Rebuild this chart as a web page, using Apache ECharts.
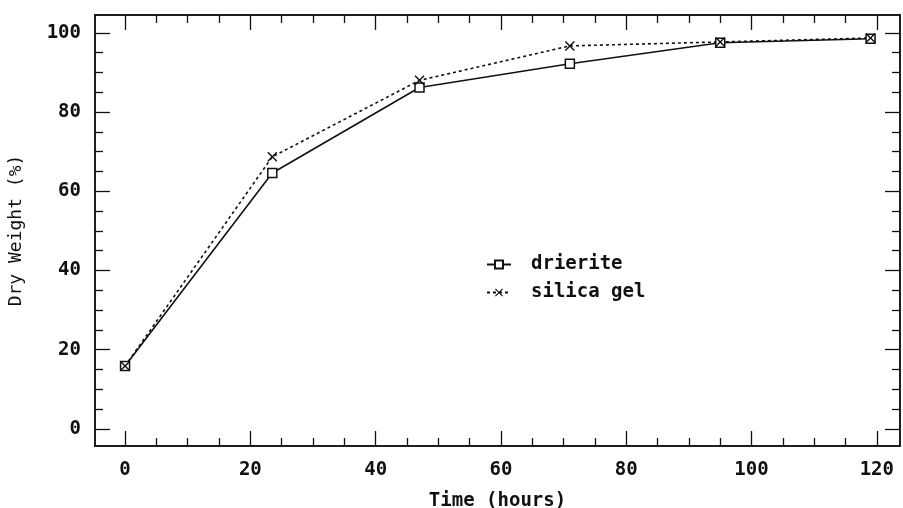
<!DOCTYPE html>
<html>
<head>
<meta charset="utf-8">
<script src="https://cdn.jsdelivr.net/npm/echarts@6/dist/echarts.min.js"></script>
<style>
  html, body { margin: 0; padding: 0; background: #fff; }
  #chart { width: 903px; height: 508px; }
</style>
</head>
<body>
<div id="chart"></div>
<script>
// data
const hours = [0, 23.5, 47, 71, 95, 119];
const drierite = [15.9, 64.6, 86.2, 92.2, 97.5, 98.5];
const silicaGel = [15.9, 68.7, 88.0, 96.7, 97.7, 98.7];
const xMajor = [0, 20, 40, 60, 80, 100, 120];
const yMajor = [0, 20, 40, 60, 80, 100];

const xRange = [-4.8, 123.7];
const yRange = [-4.3, 104.5];

// minor ticks every 5
function minorOf(major) {
  let out = [];
  for (let v = major[0]; v <= major[major.length - 1]; v += 5) {
    if (major.indexOf(v) < 0) out.push(v);
  }
  return out;
}

const font = '"DejaVu Sans Mono", monospace';
const ink = '#111';

function makeAxis(kind, pos, values, len, labels) {
  return {
    type: 'value',
    position: pos,
    min: kind === 'x' ? xRange[0] : yRange[0],
    max: kind === 'x' ? xRange[1] : yRange[1],
    splitLine: { show: false },
    axisLine: { show: true, onZero: false, lineStyle: { color: ink, width: 1.5 } },
    axisTick: { show: true, inside: true, length: len, customValues: values, lineStyle: { color: ink, width: 1.3 } },
    axisLabel: { show: labels, customValues: values, color: ink, fontFamily: font, fontWeight: 'bold', fontSize: 19,
      margin: kind === 'x' ? 15 : 14 }
  };
}

let xAxes = [
  makeAxis('x', 'bottom', xMajor, 15, true),
  makeAxis('x', 'top', xMajor, 15, false),
  makeAxis('x', 'bottom', minorOf(xMajor), 8, false),
  makeAxis('x', 'top', minorOf(xMajor), 8, false)
];
xAxes[0].name = 'Time (hours)';
xAxes[0].nameLocation = 'middle';
xAxes[0].nameGap = 46;
xAxes[0].nameTextStyle = { color: ink, fontFamily: font, fontWeight: 'bold', fontSize: 19 };

let yAxes = [
  makeAxis('y', 'left', yMajor, 15, true),
  makeAxis('y', 'right', yMajor, 15, false),
  makeAxis('y', 'left', minorOf(yMajor), 8, false),
  makeAxis('y', 'right', minorOf(yMajor), 8, false)
];
yAxes[0].name = 'Dry Weight (%)';
yAxes[0].nameLocation = 'middle';
yAxes[0].nameGap = 70;
yAxes[0].nameTextStyle = { color: ink, fontFamily: font, fontSize: 18 };

const crossPath = 'path://M0,1L1,0L5,4L9,0L10,1L6,5L10,9L9,10L5,6L1,10L0,9L4,5Z';

let myChart = echarts.init(document.getElementById('chart'));
let option = {
  backgroundColor: '#fff',
  animation: false,
  grid: { left: 95, right: 3, top: 15, bottom: 62, outerBoundsMode: 'none', containLabel: false },
  legend: {
    orient: 'vertical',
    left: 481,
    top: 250,
    itemGap: 9,
    itemWidth: 24,
    itemHeight: 10,
    textStyle: { color: ink, fontFamily: font, fontWeight: 'bold', fontSize: 19, padding: [0, 0, 0, 15] },
    data: ['drierite', 'silica gel']
  },
  xAxis: xAxes,
  yAxis: yAxes,
  series: [
    {
      name: 'drierite',
      type: 'line',
      data: hours.map((h, i) => [h, drierite[i]]),
      symbol: 'rect',
      symbolSize: 9,
      showAllSymbol: true,
      lineStyle: { color: ink, width: 1.6 },
      itemStyle: { color: '#fff', borderColor: ink, borderWidth: 1.5 }
    },
    {
      name: 'silica gel',
      type: 'line',
      data: hours.map((h, i) => [h, silicaGel[i]]),
      symbol: crossPath,
      symbolSize: 10,
      showAllSymbol: true,
      lineStyle: { color: ink, width: 1.6, type: [3, 3] },
      itemStyle: { color: ink }
    }
  ]
};
myChart.setOption(option);
</script>
</body>
</html>
